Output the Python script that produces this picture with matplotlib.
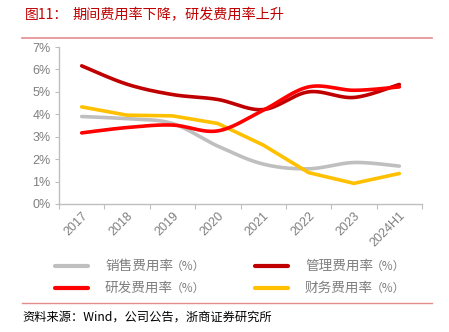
import numpy as np
import matplotlib
matplotlib.use("Agg")
import matplotlib.pyplot as plt
from matplotlib.lines import Line2D
from matplotlib.ticker import FuncFormatter, FixedLocator

plt.rcParams['font.family'] = ['Noto Sans CJK SC', 'DejaVu Sans']

categories = ["2017", "2018", "2019", "2020", "2021", "2022", "2023", "2024H1"]
sales = [3.90, 3.80, 3.59, 2.58, 1.78, 1.57, 1.85, 1.69]
admin = [6.16, 5.34, 4.88, 4.66, 4.21, 5.00, 4.75, 5.33]
rnd = [3.17, 3.41, 3.52, 3.26, 4.18, 5.22, 5.07, 5.22]
finance = [4.33, 3.96, 3.93, 3.59, 2.63, 1.40, 0.92, 1.36]

names = ["销售费用率", "管理费用率", "研发费用率", "财务费用率"]
unit = "（%）"
colors = ["#BFBFBF", "#C00000", "#FF0000", "#FFC000"]
smooth = [True, True, True, False]

W, H = 449, 332
fig = plt.figure(figsize=(W / 100, H / 100), dpi=100)


def fx(px):
    return px / W


def fy(py):
    return 1 - py / H


def smooth_curve(x, y, n=30):
    x = np.asarray(x, float)
    y = np.asarray(y, float)
    xs, ys = [], []
    for i in range(len(x) - 1):
        p0 = np.array([x[max(i - 1, 0)], y[max(i - 1, 0)]])
        p1 = np.array([x[i], y[i]])
        p2 = np.array([x[i + 1], y[i + 1]])
        p3 = np.array([x[min(i + 2, len(x) - 1)], y[min(i + 2, len(x) - 1)]])
        c1 = p1 + (p2 - p0) / 6
        c2 = p2 - (p3 - p1) / 6
        t = np.linspace(0, 1, n)[:, None]
        b = ((1 - t) ** 3) * p1 + 3 * ((1 - t) ** 2) * t * c1 + 3 * (1 - t) * t ** 2 * c2 + t ** 3 * p2
        xs.append(b[:, 0])
        ys.append(b[:, 1])
    return np.concatenate(xs), np.concatenate(ys)


ax = fig.add_axes([fx(59), fy(204), fx(422 - 59), (204 - 47) / H])
xpos = np.arange(len(categories))
series = [sales, admin, rnd, finance]
order = [0, 3, 1, 2]
for i in order:
    if smooth[i]:
        sx, sy = smooth_curve(xpos, series[i])
    else:
        sx, sy = xpos, series[i]
    ax.plot(sx, sy, color=colors[i], lw=2.6, solid_capstyle='round', zorder=3)

ax.set_xlim(-0.5, len(categories) - 0.5)
ax.set_ylim(0, 7)
ax.yaxis.set_major_locator(FixedLocator(np.arange(0, 8)))
ax.yaxis.set_major_formatter(FuncFormatter(lambda v, p: f"{int(v)}%"))
ax.xaxis.set_major_locator(FixedLocator(np.arange(-0.5, len(categories), 1.0)))
ax.xaxis.set_major_formatter(FuncFormatter(lambda v, p: ""))
ax.xaxis.set_minor_locator(FixedLocator(xpos))
ax.set_xticklabels(categories, minor=True)
for s in ["top", "right"]:
    ax.spines[s].set_visible(False)
for s in ["left", "bottom"]:
    ax.spines[s].set_color("#BFBFBF")
    ax.spines[s].set_linewidth(1.0)
ax.tick_params(axis='y', which='major', length=3, color="#BFBFBF", labelcolor="#7F7F7F",
               labelsize=9, pad=3)
ax.tick_params(axis='x', which='major', length=3.5, color="#BFBFBF")
ax.tick_params(axis='x', which='minor', length=0, labelcolor="#7F7F7F", labelsize=9, pad=4)
for lab in ax.get_yticklabels():
    lab.set_fontfamily(['Liberation Sans Narrow', 'Liberation Sans', 'DejaVu Sans'])
for lab in ax.get_xticklabels(minor=True):
    lab.set_fontfamily(['Liberation Sans Narrow', 'Liberation Sans', 'DejaVu Sans'])
    lab.set_rotation(45)
    lab.set_ha('right')
    lab.set_va('top')
    lab.set_rotation_mode('anchor')

# Title
fig.text(fx(25), fy(15), "图11：", color="#C00000", fontsize=10, va='center', ha='left')
fig.text(fx(72), fy(15), "期间费用率下降，研发费用率上升", color="#C00000", fontsize=10.2,
         va='center', ha='left')
fig.add_artist(Line2D([fx(22), fx(432)], [fy(37.5), fy(37.5)], color="#E58C8C", lw=1.2))

# Legend
leg_pos = [(55, 266), (255, 266), (55, 288), (255, 288)]
for i, (lx, ly) in enumerate(leg_pos):
    fig.add_artist(Line2D([fx(lx), fx(lx + 33)], [fy(ly), fy(ly)], color=colors[i], lw=3,
                          solid_capstyle='round'))
    fig.text(fx(lx + 50), fy(ly), names[i], color="#7F7F7F", fontsize=9.8, va='center', ha='left')
    fig.text(fx(lx + 116), fy(ly), unit, color="#7F7F7F", fontsize=8.5, va='center', ha='left')

# Footer
fig.add_artist(Line2D([fx(22), fx(432)], [fy(303), fy(303)], color="#E58C8C", lw=1.0))
fig.text(fx(22), fy(317), "资料来源：Wind，公司公告，浙商证券研究所", color="#000000",
         fontsize=8.8, va='center', ha='left')

fig.savefig("out.png", dpi=100)
